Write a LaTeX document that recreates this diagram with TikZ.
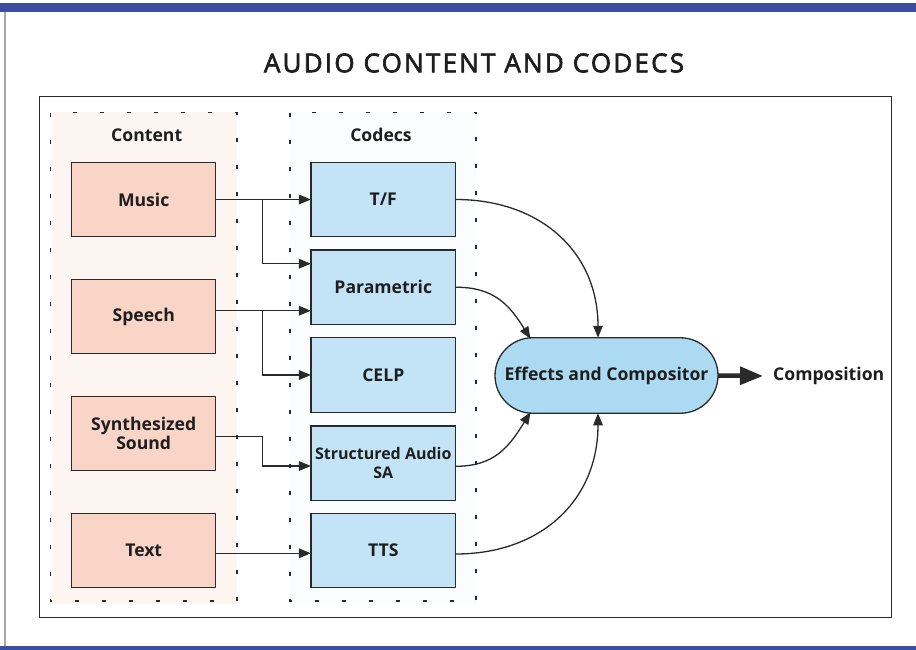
\documentclass[tikz,border=0pt]{standalone}
\usepackage{fontspec}
\setmainfont{Open Sans}
\newfontfamily\titlefont{Open Sans}[LetterSpace=8.5, FakeBold=2.5]
\usetikzlibrary{arrows.meta,calc}
\definecolor{bandblue}{HTML}{3B4EA0}
\definecolor{ink}{HTML}{1E1E1E}
\definecolor{edge}{HTML}{2A2A2A}
\definecolor{contentfill}{HTML}{F8D5C6}
\definecolor{codecfill}{HTML}{C2E4F6}
\definecolor{effectfill}{HTML}{ACDAF3}
\definecolor{contentzone}{HTML}{FDF5F1}
\definecolor{codeczone}{HTML}{FAFCFE}
\tikzset{
  label/.style={font=\fontsize{17.6}{19}\selectfont\bfseries, text=ink},
  srcbox/.style={label, draw=edge, line width=1.3pt, fill=contentfill,
    minimum width=144pt, minimum height=74.5pt, inner sep=0pt, outer sep=0pt,
    align=center},
  codecbox/.style={label, draw=edge, line width=1.3pt, fill=codecfill,
    minimum width=144.7pt, minimum height=74.5pt, inner sep=0pt, outer sep=0pt,
    align=center},
  zoneline/.style={draw=edge, line width=1.2pt, dash pattern=on 4pt off 23pt},
  arr/.style={draw=edge, line width=1.3pt, -{Triangle[length=12pt,width=9.5pt]}},
  curvearr/.style={arr, looseness=1.1},
}
\begin{document}
\begin{tikzpicture}[x=1pt,y=-1pt]
\useasboundingbox (0,0) rectangle (916,650);
\fill[white] (0,0) rectangle (916,650);

% page bands and left rule
\fill[bandblue] (0,3.5) rectangle (916,12);
\fill[bandblue] (0,646) rectangle (916,650);
\draw[gray!70, line width=1.5pt] (5,12) -- (5,646);

% title
\node[font=\titlefont\fontsize{26}{29}\selectfont, text=ink] (title) at (474,63) {AUDIO CONTENT AND CODECS};

% diagram frame
\draw[edge, line width=1.8pt] (39.5,96.5) rectangle (891.5,617.5);

% column zones
\fill[contentzone] (52,112) rectangle (237,604);
\fill[codeczone] (290,112) rectangle (476,604);
\draw[zoneline] (50.7,112.7) rectangle (237,601);
\draw[zoneline] (290,112.7) rectangle (476,601);

\node[label] (hcontent) at (146.7,135) {Content};
\node[label] (hcodecs) at (381,135) {Codecs};

% content sources
\node[srcbox] (music)  at (143.7,199.5) {Music};
\node[srcbox] (speech) at (143.7,316.5) {Speech};
\node[srcbox, font=\fontsize{17.6}{18.5}\selectfont\bfseries] (synth) at (143.7,433.5) {Synthesized\\Sound};
\node[srcbox] (text)   at (143.7,550.5) {Text};

% codecs
\node[codecbox] (tf)    at (383.3,199.5) {T/F};
\node[codecbox] (param) at (383.3,287.2) {Parametric};
\node[codecbox] (celp)  at (383.3,375)   {CELP};
\node[codecbox, font=\fontsize{16}{19}\selectfont\bfseries] (sa) at (383.3,463.3) {Structured Audio\\SA};
\node[codecbox] (tts)   at (383.3,550.5) {TTS};

% compositor and output
\node[label, draw=edge, line width=1.3pt, fill=effectfill, minimum width=223pt,
  minimum height=75.5pt, rounded corners=37.7pt, inner sep=0pt, outer sep=0pt]
  (eff) at (606.5,375.5) {Effects and Compositor};
\node[label, anchor=west, inner xsep=10pt, inner ysep=0pt] (comp) at (763,376) {Composition};

% content to codec routing
\coordinate (jm) at (262.7,199.5);
\coordinate (js) at (262.7,310.7);
\coordinate (jy) at (262.7,436.7);
\draw[arr] (music.east) -- (tf.west);
\draw[arr] (jm) |- ($(param.west)+(0,-23.5)$);
\draw[arr] ($(speech.east)+(0,-5.8)$) -- ($(param.west)+(0,23.5)$);
\draw[arr] (js) |- (celp.west);
\draw[arr] ($(synth.east)+(0,3.2)$) -- (jy) |- ($(sa.west)+(0,2.7)$);
\draw[arr] ($(text.east)+(0,2.8)$) -- ($(tts.west)+(0,2.8)$);

% codecs into the compositor
\draw[curvearr] (tf.east) to[out=0, in=90] ($(eff.north)+(-8.5,0)$);
\draw[curvearr] (param.east) to[out=0, in=122] ($(eff.north)+(-76,1)$);
\draw[curvearr] ($(sa.east)+(0,3)$) to[out=0, in=238] ($(eff.south)+(-76,-1)$);
\draw[curvearr] ($(tts.east)+(0,3.5)$) to[out=0, in=270] ($(eff.south)+(-8.5,0)$);

% output
\draw[edge, line width=4.5pt, -{Triangle[length=23pt,width=17.5pt]}] (eff.east) -- (comp.west);
\end{tikzpicture}
\end{document}
